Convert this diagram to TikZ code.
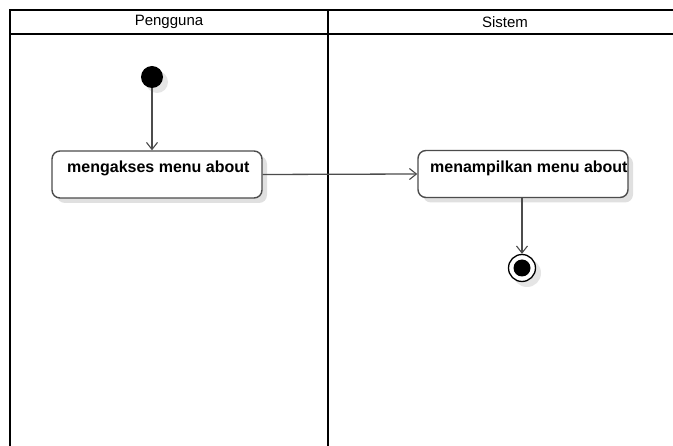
\documentclass[tikz,border=0pt]{standalone}
\usepackage{fontspec}
\setmainfont{Liberation Sans}
\usetikzlibrary{arrows.meta,shadows}
\begin{document}
\begin{tikzpicture}[x=1pt,y=-1pt,
  lane/.style={line width=2.2pt,draw=black},
  actlabel/.style={anchor=west,font=\bfseries\fontsize{16}{18}\selectfont,text=black,inner sep=0pt},
  activity/.style={draw=black!70,line width=1.4pt,rounded corners=8pt,fill=white,
    minimum width=210pt,minimum height=47pt,
    drop shadow={shadow xshift=5pt,shadow yshift=-5pt,fill=black!12,opacity=1}},
  flow/.style={draw=black!70,line width=1.3pt,-{Straight Barb[length=7pt,width=11pt,line width=1.1pt]}},
  startnode/.style={circle,fill=black,minimum size=22pt,inner sep=0pt,
    drop shadow={shadow xshift=5pt,shadow yshift=-5pt,fill=black!10,opacity=1}},
  lanetitle/.style={font=\fontsize{15}{17}\selectfont,text=black},
]
\useasboundingbox (0,0) rectangle (673,446);
\fill[white] (0,0) rectangle (673,446);

% swimlane frame
\draw[lane] (10,447) -- (10,10) -- (680,10);
\draw[lane,line width=1.6pt] (10,34) -- (680,34);
\draw[lane] (328,10) -- (328,447);
\node[lanetitle] (lane1) at (169,22) {Pengguna};
\node[lanetitle] (lane2) at (505,22) {Sistem};

% nodes
\node[startnode] (start) at (152,77) {};
\node[activity] (a1) at (157,174.5) {};
\node[actlabel] (t1) at (67,168) {mengakses menu about};
\node[activity] (a2) at (523,174) {};
\node[actlabel] (t2) at (430,168) {menampilkan menu about};
\fill[black!10] (527,273) circle (14pt);
\node[circle,draw=black,line width=1.3pt,fill=white,minimum size=27pt,inner sep=0pt] (end) at (522,268) {};
\fill[black] (end.center) circle (8.5pt);

% flows
\draw[flow] (start.south) -- (start.south |- a1.north);
\draw[flow] (a1.east) -- (a2.west);
\draw[flow] (end.north |- a2.south) -- (end.north);
\end{tikzpicture}
\end{document}
